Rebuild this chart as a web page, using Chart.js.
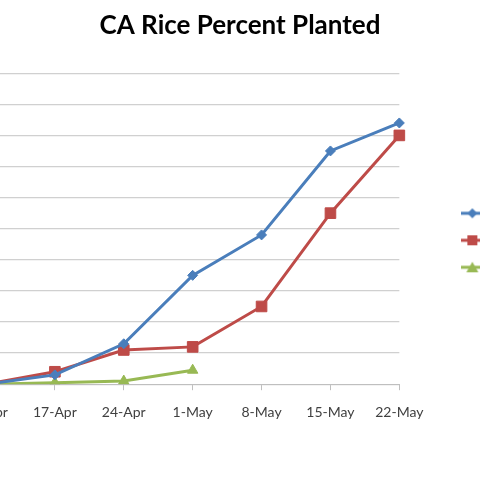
<!DOCTYPE html>
<html>
<head>
<meta charset="utf-8">
<script src="https://cdn.jsdelivr.net/npm/chart.js@4.4.0/dist/chart.umd.min.js"></script>
<style>
  html, body { margin: 0; padding: 0; background: #fff; overflow: hidden; }
  #wrap { position: absolute; left: -50px; top: 0; width: 580px; height: 480px; }
</style>
</head>
<body>
<div id="wrap"><canvas id="grafica"></canvas></div>
<script>
const semanas = ['10-Apr', '17-Apr', '24-Apr', '1-May', '8-May', '15-May', '22-May'];
const nombres = ['2011', '2012', '2013'];
const serieAzul = [0, 3, 13, 35, 48, 75, 84];
const serieRoja = [0, 4, 11, 12, 25, 55, 80];
const serieVerde = [0, 0.5, 1, 4.5, null, null, null];
const ticksY = [0, 10, 20, 30, 40, 50, 60, 70, 80, 90, 100];

const colores = ['#4a7ebb', '#be4b48', '#98b954'];
const formas = ['rectRot', 'rect', 'triangle'];

// little line+marker pictures for the legend
function iconoLeyenda(color, forma) {
  const c = document.createElement('canvas');
  c.width = 22; c.height = 14;
  const g = c.getContext('2d');
  g.strokeStyle = color; g.fillStyle = color; g.lineWidth = 3;
  g.beginPath(); g.moveTo(0, 7); g.lineTo(22, 7); g.stroke();
  g.beginPath();
  if (forma === 'rectRot') {
    g.moveTo(11, 2); g.lineTo(16, 7); g.lineTo(11, 12); g.lineTo(6, 7);
  } else if (forma === 'rect') {
    g.rect(6, 2, 10, 10);
  } else {
    g.moveTo(11, 1.5); g.lineTo(17, 12); g.lineTo(5, 12);
  }
  g.closePath(); g.fill();
  return c;
}

const series = [serieAzul, serieRoja, serieVerde];
const radios = [5, 7.5, 6];

const datasets = series.map((valores, i) => ({
  label: nombres[i],
  data: valores,
  borderColor: colores[i],
  backgroundColor: colores[i],
  borderWidth: 3,
  pointStyle: formas[i],
  pointRadius: radios[i],
  pointBorderWidth: 1,
  tension: 0,
  spanGaps: false
}));

const iconos = colores.map((c, i) => iconoLeyenda(c, formas[i]));

new Chart(document.getElementById('grafica'), {
  type: 'line',
  data: { labels: semanas, datasets: datasets },
  options: {
    responsive: true,
    maintainAspectRatio: false,
    animation: false,
    layout: { padding: { left: 0, right: 0, top: 0, bottom: 45 } },
    plugins: {
      title: {
        display: true,
        text: 'CA Rice Percent Planted',
        color: '#000',
        font: { family: 'Lato', size: 26, weight: 'bold' },
        padding: { top: 10, bottom: 32 }
      },
      legend: {
        position: 'right',
        title: { display: true, text: ' ', font: { family: 'Lato', size: 13 }, padding: { top: 15, bottom: 15 } },
        labels: {
          usePointStyle: true,
          pointStyleWidth: 22,
          padding: 14,
          color: '#404040',
          font: { family: 'Lato', size: 13 },
          generateLabels: (chart) => chart.data.datasets.map((d, i) => ({
            text: d.label,
            pointStyle: iconos[i],
            fillStyle: d.borderColor,
            strokeStyle: d.borderColor,
            lineWidth: 0,
            hidden: false,
            datasetIndex: i
          }))
        }
      },
      tooltip: { enabled: false }
    },
    scales: {
      x: {
        offset: false,
        grid: { drawOnChartArea: false, drawTicks: true, tickLength: 6, color: '#bfbfbf' },
        border: { color: '#bfbfbf', width: 1 },
        ticks: { color: '#404040', font: { family: 'Lato', size: 14 }, padding: 14, maxRotation: 0, autoSkip: false }
      },
      y: {
        min: 0,
        max: 100,
        afterBuildTicks: (s) => { s.ticks = ticksY.map(v => ({ value: v })); },
        grid: { color: '#d0d0d0', lineWidth: 1.3, drawTicks: false },
        border: { display: false },
        ticks: { display: false },
        afterFit: (s) => { s.width = 36; }
      },
      hueco: {
        type: 'linear',
        position: 'right',
        grid: { display: false },
        border: { display: false },
        ticks: { display: false },
        afterFit: (s) => { s.width = 48; }
      }
    }
  }
});
</script>
</body>
</html>
